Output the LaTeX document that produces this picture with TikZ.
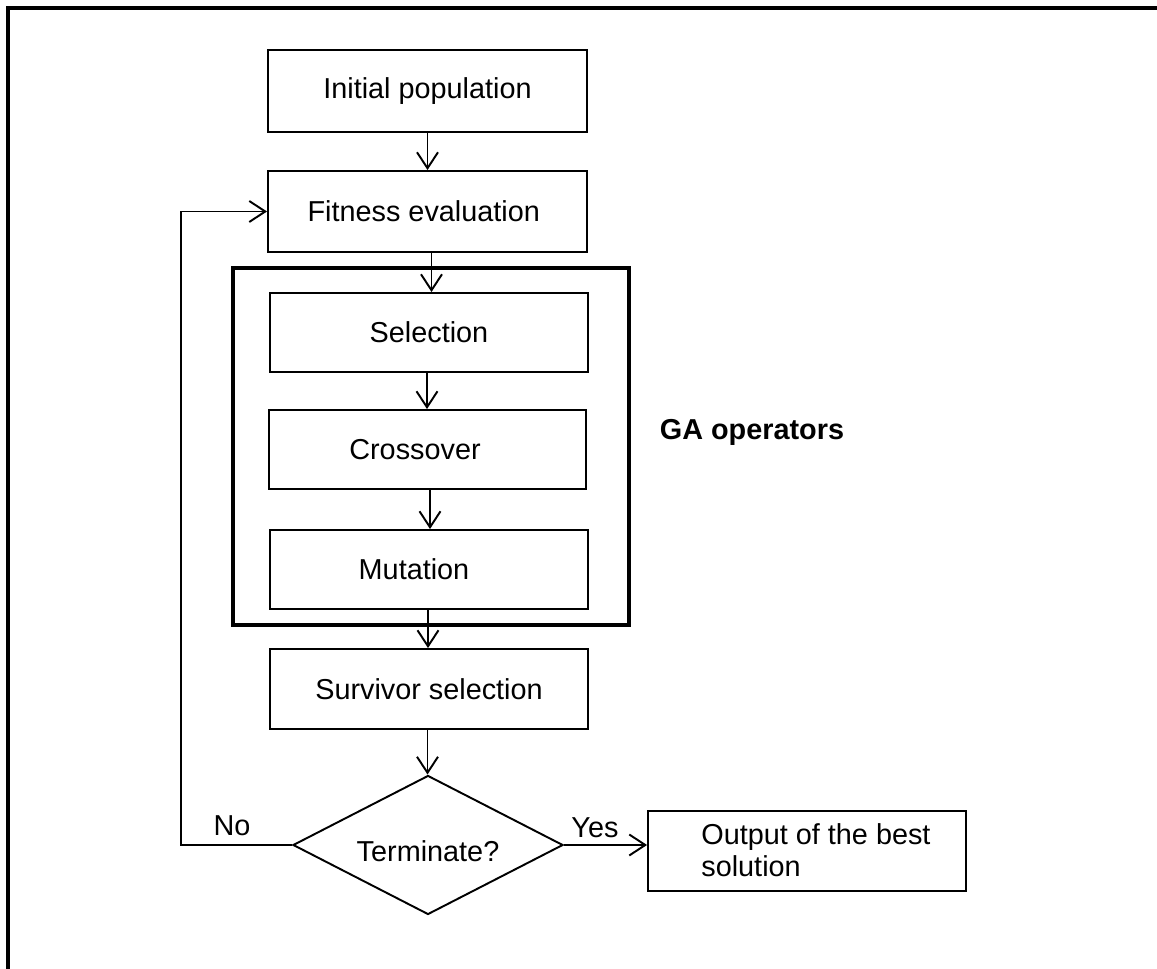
\documentclass[tikz,border=0pt]{standalone}
\usepackage{fontspec}
\setmainfont{Liberation Sans}
\usepackage{tikz}
\usetikzlibrary{arrows.meta, positioning, shapes.geometric, calc}

\begin{document}
\begin{tikzpicture}[
    font=\fontsize{16.4}{18.2}\selectfont,
    stepbox/.style={draw, line width=1.1pt, minimum width=6.38cm, minimum height=1.6cm, inner sep=0pt},
    flow/.style={line width=1.1pt, -{Straight Barb[length=0.32cm, width=0.42cm, line width=1.1pt]}}
]
\useasboundingbox (0,0) rectangle (23.14,-19.38);

% frame
\draw[line width=2.3pt] (0.16,-19.38) -- (0.16,-0.16) -- (23.14,-0.16);

% main steps
\node[stepbox, minimum height=1.64cm] (init) at (8.55,-1.82) {Initial population};
\node[stepbox, minimum height=1.62cm] (fit) at (8.55,-4.23) {\hspace*{-0.15cm}Fitness evaluation};

% GA operators
\draw[line width=2.3pt] (4.66,-5.36) rectangle (12.58,-12.5);
\node[stepbox, minimum width=6.36cm, minimum height=1.58cm] (sel) at (8.58,-6.65) {Selection};
\node[stepbox, minimum width=6.34cm, minimum height=1.58cm] (cross) at (8.55,-8.99) {\hspace*{-0.5cm}Crossover};
\node[stepbox, minimum width=6.36cm, minimum height=1.58cm] (mut) at (8.58,-11.39) {\hspace*{-0.6cm}Mutation};
\node[font=\fontsize{16.4}{18.2}\selectfont\bfseries] (gaop) at (15.04,-8.64) {GA operators};

\node[stepbox, minimum width=6.36cm] (surv) at (8.58,-13.78) {Survivor selection};

% decision
\node[draw, diamond, aspect=2, line width=1.1pt, minimum width=5.4cm, minimum height=2.78cm, inner sep=0pt, text height=0.68cm, text depth=0cm] (term) at (8.56,-16.9) {Terminate?};
\node[stepbox, minimum width=6.36cm] (out) at (16.14,-17.02) {};
\node[anchor=west, align=left, inner sep=0pt] (outtxt) at ([xshift=1.08cm, yshift=0.02cm]out.west) {Output of the best\\solution};

% arrows
\draw[flow] (init.south) -- (init.south |- fit.north);
\draw[flow] ([xshift=0.08cm]fit.south) -- ([xshift=0.08cm]fit.south |- sel.north);
\draw[flow] ([xshift=-0.04cm]sel.south) -- ([xshift=-0.04cm]sel.south |- cross.north);
\draw[flow] ([xshift=0.05cm]cross.south) -- ([xshift=0.05cm]cross.south |- mut.north);
\draw[flow] ([xshift=-0.02cm]mut.south) -- ([xshift=-0.02cm]mut.south |- surv.north);
\draw[flow] ([xshift=-0.03cm]surv.south) -- ([xshift=-0.03cm]surv.south |- term.north);

% loop back
\coordinate (back) at (3.62,-16.9);
\draw[flow] (term.west) -- (back) |- (fit.west);
\node (no) at (4.64,-16.52) {No};
\draw[flow] (term.east) -- (term.east -| out.west);
\node (yes) at (11.9,-16.56) {Yes};
\end{tikzpicture}
\end{document}
